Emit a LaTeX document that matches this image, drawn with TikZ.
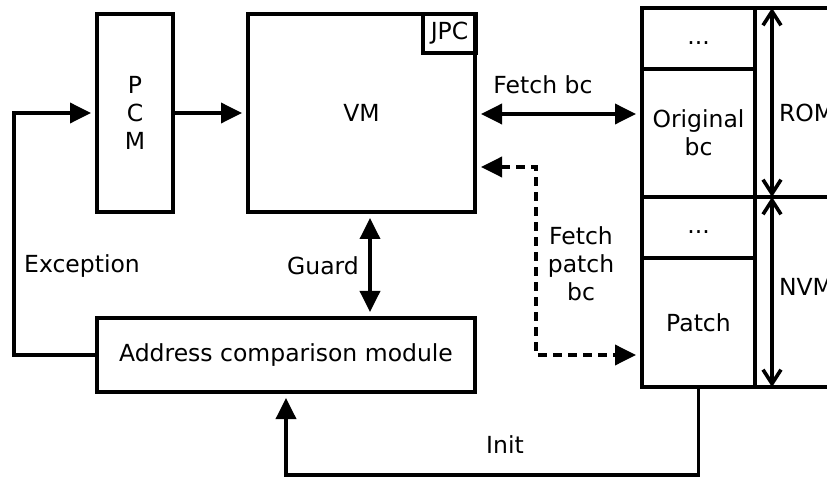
\documentclass[tikz,border=0pt]{standalone}
\usepackage{fontspec}
\setmainfont{DejaVu Sans}
\usetikzlibrary{arrows.meta}
\begin{document}
\begin{tikzpicture}[x=1pt,y=-1pt,
  every node/.style={font=\fontsize{23.5}{28}\selectfont, inner sep=0pt, outer sep=0pt},
  box/.style={draw, line width=3.8pt, anchor=north west, align=center},
  conn/.style={line width=3.6pt},
  tri/.style={-{Triangle[length=21pt,width=20pt]}, shorten >=6pt},
  tri both/.style={{Triangle[length=21pt,width=20pt]}-{Triangle[length=21pt,width=20pt]}, shorten >=6pt, shorten <=6pt},
  barb both/.style={{Straight Barb[length=14pt,width=18pt]}-{Straight Barb[length=14pt,width=18pt]}},
  dashline/.style={dash pattern=on 9pt off 6pt},
  lbl/.style={align=center}]
\useasboundingbox (0,0) rectangle (827,478);
\clip (0,0) rectangle (827,478);
% boxes
\node[box, minimum width=76pt, minimum height=198pt] (pcm) at (97,14) {P\\C\\M};
\node[box, minimum width=227pt, minimum height=198pt] (vm) at (248,14) {VM};
\node[box, minimum width=53pt, minimum height=39pt] (jpc) at (423,14) {JPC};
\node[box, minimum width=378pt, minimum height=74pt] (addr) at (97,318) {Address comparison module};
% memory column
\node[box, minimum width=113pt, minimum height=61pt] (dots1) at (642,8) {\vphantom{Ag}...};
\node[box, minimum width=113pt, minimum height=128pt] (orig) at (642,69) {Original\\bc};
\node[box, minimum width=113pt, minimum height=61pt] (dots2) at (642,197) {\vphantom{Ag}...};
\node[box, minimum width=113pt, minimum height=129pt] (patch) at (642,258) {Patch};
% ROM / NVM annotation
\coordinate (r0) at (755,8);
\coordinate (r1) at (755,197);
\coordinate (r2) at (755,387);
\draw[conn] (r0) -- ++(90,0);
\draw[conn] (r1) -- ++(90,0);
\draw[conn] (r2) -- ++(90,0);
\coordinate (a0) at (772,8);
\coordinate (a1) at (772,197);
\coordinate (a2) at (772,387);
\draw[conn, barb both] (a0) -- (a1);
\draw[conn, barb both] (a1) -- (a2);
\node[anchor=west] (rom) at (779,113) {ROM};
\node[anchor=west] (nvm) at (779,287) {NVM};
% connectors
\draw[conn, tri] (pcm.east) -- (vm.west);
\coordinate (exc) at (14,355);
\draw[conn, tri] (addr.west) -- (exc) |- (pcm.west);
\coordinate (g) at (370,0);
\draw[conn, tri both] (vm.south -| g) -- (addr.north -| g);
\coordinate (fb) at (0,114);
\draw[conn, tri both] (vm.east |- fb) -- (orig.west |- fb);
\coordinate (d1) at (536,167);
\coordinate (d2) at (536,355);
\draw[conn, dashline, tri both] (vm.east |- d1) -- (d1) -- (d2) -- (patch.west |- d2);
\coordinate (i1) at (0,475);
\draw[conn, tri] (patch.south) -- (patch.south |- i1) -| (addr.south);
% labels
\node (lfetch) at (543,85) {Fetch bc};
\node[lbl] (lpatch) at (581,264) {Fetch\\patch\\bc};
\node (lguard) at (323,266) {Guard};
\node (lexc) at (82,266) {Exception};
\node (linit) at (505,445) {Init};
\end{tikzpicture}
\end{document}
